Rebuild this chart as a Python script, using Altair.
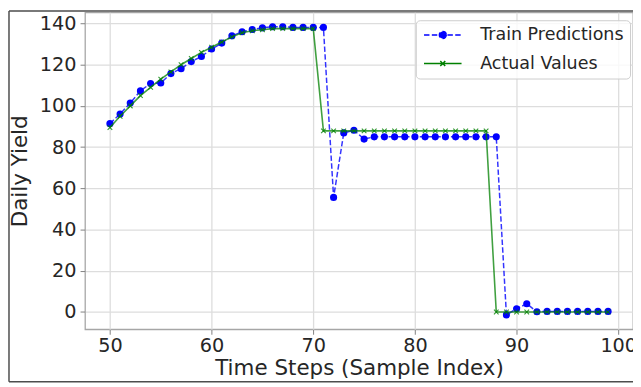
import altair as alt
import pandas as pd

steps = list(range(50, 100))

train_pred = [
    91.4, 96.1, 101.4, 107.3, 110.9, 111.1, 115.7, 118.1, 121.5, 124.0,
    127.6, 130.5, 134.0, 136.0, 137.1, 137.9, 138.4, 138.4, 138.1, 138.1,
    138.1, 138.1, 55.6, 86.9, 88.2, 83.9, 85.0, 85.0, 85.0, 85.0,
    85.0, 85.0, 85.0, 85.0, 85.0, 85.0, 85.0, 85.0, 85.0, -1.4,
    1.6, 4.0, 0.1, 0.3, 0.3, 0.3, 0.3, 0.3, 0.3, 0.3,
]

actual = [
    89.5, 95.0, 100.0, 105.0, 109.0, 113.0, 116.5, 120.0, 123.0, 126.0,
    128.5, 131.0, 133.5, 135.5, 136.5, 137.0, 137.5, 137.5, 137.5, 137.5,
    137.5, 87.9, 87.9, 87.9, 87.9, 87.9, 87.9, 87.9, 87.9, 87.9,
    87.9, 87.9, 87.9, 87.9, 87.9, 87.9, 87.9, 87.9, 0.0, 0.0,
    0.0, 0.0, 0.0, 0.0, 0.0, 0.0, 0.0, 0.0, 0.0, 0.0,
]

series_names = ["Train Predictions", "Actual Values"]
series_colors = ["#0000ff", "#008000"]
x_ticks = [50, 60, 70, 80, 90, 100]
y_ticks = [0, 20, 40, 60, 80, 100, 120, 140]

df = pd.DataFrame({
    "step": steps + steps,
    "value": train_pred + actual,
    "series": [series_names[0]] * len(steps) + [series_names[1]] * len(steps),
})

FONT = "DejaVu Sans"
TXT = "#262626"

# legend symbols: a line segment with the series marker on it
PRED_PATH = "M-2.714,0L2.714,0M0.5,0A0.5,0.5,0,1,1,-0.5,0A0.5,0.5,0,1,1,0.5,0"
ACT_PATH = "M-2.714,0L2.714,0M-0.357,-0.357L0.357,0.357M-0.357,0.357L0.357,-0.357"
X_PATH = "M-1,-1L1,1M-1,1L1,-1"

legend = alt.Legend(
    title=None,
    orient="none",
    legendX=335,
    legendY=8,
    symbolSize=196,
    symbolStrokeWidth=1.5,
    symbolOffset=12.5,
    labelOffset=29,
    rowPadding=10,
    padding=6,
    labelFontSize=17.7,
    labelFont=FONT,
    labelColor=TXT,
    fillColor="rgba(255,255,255,0.8)",
    strokeColor="#cccccc",
    cornerRadius=4,
)

x_enc = alt.X(
    "step:Q",
    scale=alt.Scale(domain=[47.55, 101.45], nice=False, zero=False),
    axis=alt.Axis(values=x_ticks, title="Time Steps (Sample Index)", format="d"),
)
y_enc = alt.Y(
    "value:Q",
    scale=alt.Scale(domain=[-8.4, 145.4], nice=False, zero=False),
    axis=alt.Axis(values=y_ticks, title="Daily Yield", format="d"),
)

base = alt.Chart(df)
pred = base.transform_filter(alt.datum.series == series_names[0])
act = base.transform_filter(alt.datum.series == series_names[1])

pred_line = pred.mark_line(
    strokeWidth=1.5, strokeOpacity=0.8, color="#0000ff", strokeDash=[5.5, 2.4]
).encode(x=x_enc, y=y_enc)

pred_pts = pred.mark_point(
    filled=True, shape="circle", size=52, color="#0000ff", opacity=1
).encode(x="step:Q", y="value:Q")

act_line = act.mark_line(
    strokeWidth=1.6, strokeOpacity=0.75, color="#008000"
).encode(x="step:Q", y="value:Q")

act_pts = act.mark_point(
    filled=False, shape=X_PATH, size=22, color="#008000", strokeWidth=1.1, opacity=0.8
).encode(x="step:Q", y="value:Q")

# legend-only layer (draws no marks; provides the merged legend)
legend_layer = base.transform_filter("false").mark_point(
    opacity=1, strokeWidth=1.5
).encode(
    x="step:Q",
    y="value:Q",
    fill=alt.Fill("series:N", scale=alt.Scale(domain=series_names, range=series_colors), legend=legend),
    stroke=alt.Stroke("series:N", scale=alt.Scale(domain=series_names, range=series_colors), legend=legend),
    shape=alt.Shape("series:N", scale=alt.Scale(domain=series_names, range=[PRED_PATH, ACT_PATH]), legend=legend),
    strokeDash=alt.StrokeDash("series:N", scale=alt.Scale(domain=series_names, range=[[5.5, 2.4], [1, 0]]), legend=legend),
)

one = alt.Data(values=[{"k": 1}])
border_left = alt.Chart(one).mark_rule(color="#4d4d4d", strokeWidth=1.5).encode(
    x=alt.value(-77), y=alt.value(-1.5), y2=alt.value(374)
)
border_top = alt.Chart(one).mark_rule(color="#4d4d4d", strokeWidth=1.5).encode(
    x=alt.value(-77), x2=alt.value(560), y=alt.value(-1.5)
)
border_bottom = alt.Chart(one).mark_rule(color="#4d4d4d", strokeWidth=1.5).encode(
    x=alt.value(-77), x2=alt.value(560), y=alt.value(374)
)

chart = alt.layer(
    pred_line, pred_pts, act_line, act_pts, legend_layer,
    border_left, border_top, border_bottom
).properties(
    width=555,
    height=321,
    autosize=alt.AutoSizeParams(type="none"),
    padding={"left": 78, "top": 2, "right": 0, "bottom": 56},
    background="white",
).configure_view(
    stroke="#a6a6a6", strokeWidth=1.3
).configure_axis(
    domain=False,
    grid=True,
    gridColor="#dddddd",
    gridWidth=1.3,
    tickColor="#808080",
    tickSize=5,
    tickWidth=1,
    labelFont=FONT,
    labelFontSize=19.5,
    labelColor=TXT,
    titleFont=FONT,
    titleFontSize=21.7,
    titleFontWeight="normal",
    titleColor=TXT,
).configure_axisX(
    labelPadding=2.5, titlePadding=3
).configure_axisY(
    labelPadding=4, titlePadding=8
)

chart.save("out.html", embed_options={"renderer": "svg", "actions": False})
